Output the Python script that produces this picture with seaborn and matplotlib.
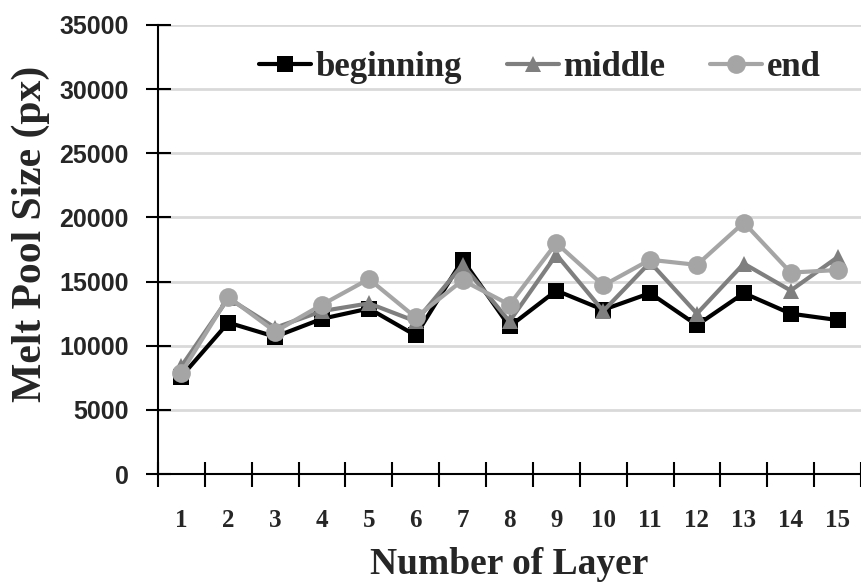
import numpy as np
import pandas as pd
import matplotlib.pyplot as plt
import seaborn as sns
from matplotlib.ticker import FixedLocator, NullFormatter

layers = list(range(1, 16))
beginning = [7600, 11800, 10700, 12100, 12900, 10800, 16700, 11500, 14300, 12800, 14100, 11600, 14100, 12500, 12000]
middle = [8400, 13700, 11400, 12700, 13300, 11900, 16300, 11900, 17100, 12700, 16500, 12500, 16400, 14300, 16900]
end = [7900, 13800, 11100, 13200, 15200, 12200, 15100, 13200, 18000, 14700, 16700, 16300, 19600, 15700, 15900]
series_names = ["beginning", "middle", "end"]

df = pd.DataFrame({
    "layer": layers * 3,
    "size": beginning + middle + end,
    "position": [n for n in series_names for _ in layers],
})

sns.set_style("white")
plt.rcParams['font.family'] = ['Liberation Serif', 'DejaVu Serif']
plt.rcParams['font.weight'] = 'bold'

fig = plt.figure(figsize=(8.61, 5.88), dpi=100)
ax = fig.add_axes([158/861, 114/588, 703/861, 449/588])

colors = ["#000000", "#7f7f7f", "#a5a5a5"]
sns.lineplot(data=df, x="layer", y="size", hue="position", style="position",
             markers=["s", "^", "o"], dashes=False, palette=colors,
             linewidth=3, markersize=12, markeredgewidth=0, ax=ax, zorder=3)
for ln in ax.lines:
    if ln.get_marker() == "o":
        ln.set_markersize(13.5)

ax.set_xlim(0.5, 15.5)
ax.set_ylim(0, 35000)
ax.set_yticks(np.arange(0, 35001, 5000))
ax.yaxis.grid(True, color="#d9d9d9", linewidth=2)
ax.set_axisbelow(True)

ax.xaxis.set_major_locator(FixedLocator(layers))
ax.xaxis.set_minor_locator(FixedLocator(np.arange(0.5, 16, 1)))
ax.xaxis.set_minor_formatter(NullFormatter())
ax.tick_params(axis="x", which="major", length=0, pad=25, labelsize=18)
ax.tick_params(axis="x", which="minor", direction="inout", length=18, width=1.5, color="black", bottom=True)
ax.tick_params(axis="y", direction="inout", length=18, width=1.5, color="black", left=True, labelsize=18, pad=12)
for lab in ax.get_yticklabels():
    lab.set_family(['Liberation Sans', 'DejaVu Sans'])

for s in ["top", "right"]:
    ax.spines[s].set_visible(False)
for s in ["left", "bottom"]:
    ax.spines[s].set_color("black")
    ax.spines[s].set_linewidth(1.5)

ax.set_xlabel("Number of Layer", fontsize=27, fontweight="bold", labelpad=11)
ax.set_ylabel("Melt Pool Size (px)", fontsize=30, fontweight="bold")
ax.yaxis.set_label_coords(-0.154, 0.535)

leg = ax.legend(loc="center", bbox_to_anchor=(0.543, 0.906), ncol=3, frameon=False,
                fontsize=25, handlelength=1.5, handletextpad=0.12, columnspacing=1.3)
for h in leg.legend_handles:
    h.set_linewidth(3)

fig.savefig("out.png", dpi=100)
